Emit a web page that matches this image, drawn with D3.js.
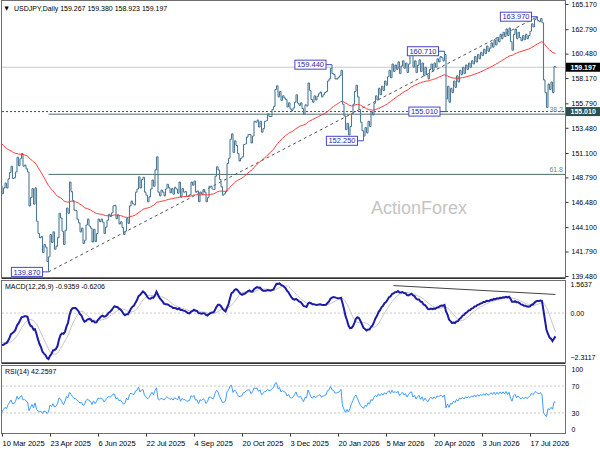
<!DOCTYPE html>
<html>
<head>
<meta charset="utf-8">
<script src="https://cdn.jsdelivr.net/npm/d3@7"></script>
<style>
  body { margin: 0; background: #fff; }
  text { font-family: "Liberation Sans", Arial, sans-serif; }
</style>
</head>
<body>
<svg id="chart" width="600" height="450"></svg>
<script>

// closes before the visible window (Dec 2024 - 7 Mar 2025), only used to warm up the indicators
var warmup = [149.6, 149.6, 150.6, 150.1, 150.0, 151.2, 151.9, 152.5, 152.6, 153.6,
  154.1, 153.5, 154.8, 157.4, 156.4, 157.1, 157.2, 157.9, 157.9, 156.9,
  157.2, 157.5, 157.3, 157.6, 158.0, 158.3, 158.1, 157.7, 157.5, 158.0,
  156.5, 155.2, 156.3, 155.6, 156.5, 156.5, 156.0, 156.0, 154.5, 155.5,
  155.3, 154.3, 155.2, 154.4, 154.4, 152.6, 151.5, 151.4, 152.0, 152.4,
  154.4, 152.8, 152.3, 151.5, 152.0, 151.5, 149.8, 149.3, 149.7, 149.0,
  149.1, 149.8, 150.6, 149.4, 149.7, 148.9, 147.9, 148.0];

// daily closes from 10 Mar 2025
var closes = [
  147.25, 147.80, 148.25, 147.80, 148.65,  149.25, 149.85, 148.70, 148.75, 149.30,
  150.70, 149.90, 150.55, 151.05, 149.85,  149.95, 149.60, 149.30, 146.10, 146.90,
  147.75, 146.25, 147.80, 144.65, 143.50,  143.10, 143.20, 141.70, 142.45, 142.20,
  140.85, 141.30, 143.40, 142.65, 143.65,  142.00, 142.30, 143.10, 145.40, 144.95,
  143.70, 142.45, 143.80, 145.90, 145.40,  148.35, 147.45, 146.60, 145.70, 145.65,
  144.85, 144.50, 143.65, 144.00, 142.55,  142.85, 144.30, 144.85, 144.20, 144.00,
  142.70, 143.90, 142.75, 143.50, 144.85,  144.60, 144.85, 144.55, 143.50, 144.10,
  144.75, 145.30, 145.10, 145.45, 146.10,  146.15, 144.90, 145.25, 144.40, 144.60,
  144.05, 143.40, 143.70, 144.90, 144.45,  146.10, 146.55, 146.30, 146.20, 147.40,
  147.70, 148.85, 147.80, 148.60, 148.80,  147.40, 147.10, 146.50, 146.95, 147.70,
  148.55, 147.95, 149.50, 150.75, 147.40,  147.05, 147.60, 147.40, 147.05, 147.70,
  148.15, 147.80, 147.35, 147.75, 147.20,  147.85, 147.70, 147.30, 148.35, 146.95,
  147.75, 147.40, 147.45, 147.00, 147.05,  147.15, 148.35, 148.05, 148.45, 147.40,
  147.50, 146.50, 147.40, 147.20, 147.65,  147.40, 146.50, 146.90, 147.95, 147.95,
  147.70, 147.65, 148.90, 149.80, 149.50,  148.60, 147.90, 147.10, 147.25, 147.45,
  150.10, 150.60, 152.40, 152.90, 151.15,  152.25, 151.80, 151.05, 150.35, 150.60,
  150.75, 151.90, 151.95, 152.60, 152.85,  152.85, 152.05, 152.70, 154.10, 154.00,
  154.20, 153.55, 154.10, 153.05, 153.40,  154.10, 154.15, 154.80, 154.55, 154.55,
  155.20, 155.50, 157.10, 157.45, 156.40,  156.90, 156.05, 156.50, 156.30, 156.15,
  155.45, 155.85, 155.25, 155.10, 155.35,  155.90, 156.60, 155.80, 155.60, 155.85,
  155.30, 154.75, 155.65, 155.55, 157.70,  157.00, 156.15, 155.90, 156.50,
  156.10, 156.45, 156.70, 156.85,  156.40, 156.60, 156.80, 156.90, 157.90,
  158.10, 159.10, 158.60, 158.50, 158.10,  158.10, 158.25, 158.40, 158.90, 155.70,
  154.60, 153.30, 153.90, 152.80, 153.60,  154.80, 155.70, 156.90, 157.50, 156.40,
  155.20, 154.00, 153.20, 152.70, 153.50,  153.00, 154.10, 153.60, 155.00, 154.70,
  155.80, 156.50, 156.10, 157.20, 156.60,  157.40, 157.00, 157.90, 157.50, 158.30,
  158.90, 158.20, 159.50, 158.80, 159.40,  159.00, 159.70, 158.60, 159.30, 159.80,
  159.10, 159.60, 158.70, 159.50, 160.30,  160.50, 159.20, 159.80, 158.70, 159.40,
  159.90, 158.80, 159.60, 158.40, 159.20,  158.50, 158.10, 159.00, 159.50, 158.90,
  159.60, 159.20, 160.00, 159.70, 160.20,  160.10, 159.80, 160.40, 156.20, 157.40,
  155.90, 157.20, 156.80, 157.90, 157.30,  158.40, 157.80, 158.90, 158.50, 159.20,
  158.60, 159.40, 159.00, 159.60, 159.20,  159.80, 159.50, 160.20, 159.70, 160.40,
  160.00, 160.60, 160.30, 160.90, 160.50,  161.20, 160.70, 161.00, 161.50, 161.10,
  161.80, 161.30, 162.00, 161.60, 162.30,  161.90, 162.50, 162.10, 162.80, 162.20,
  162.90, 161.60, 160.80, 162.30, 162.80,  161.90, 162.50, 162.00, 161.70, 162.20,
  161.80, 162.30, 161.90, 162.20, 162.60,  163.30, 163.00, 163.70, 163.90, 163.60,
  163.50, 163.80, 163.40, 158.00, 156.80,  155.40, 157.60, 157.10, 157.80, 156.80,
  159.267, 159.197
];

// labelled swing highs / lows: [bar index, price]
var pivots = [[31, 139.870], [220, 159.440], [241, 152.250], [295, 160.710], [296, 155.010], [357, 163.970]];

var dateLabels = ["10 Mar 2025", "23 Apr 2025", "6 Jun 2025", "22 Jul 2025", "4 Sep 2025", "20 Oct 2025",
  "3 Dec 2025", "20 Jan 2026", "5 Mar 2026", "20 Apr 2026", "3 Jun 2026", "17 Jul 2026"];
var priceTicks = [165.170, 162.790, 160.480, 158.170, 155.790, 153.480, 151.100, 148.790, 146.480, 144.100, 141.790, 139.480];
var macdTicks = [1.5637, 0, -2.3117];
var rsiTicks = [100, 70, 30, 0];
var fibLevels = [38.2, 61.8];
var hLevel = 155.010;
var lastPrice = 159.197;
var macdTrend = [[261, 1.30], [369, 0.88]];

var svg = d3.select("#chart");
var plotL = 2, plotR = 565.5;
var mainP = {top: 0, bottom: 277}, macdP = {top: 280, bottom: 362}, rsiP = {top: 365, bottom: 433};

var x = d3.scaleLinear().domain([0, 375]).range([2, 564.5]);
var y = d3.scaleLinear().domain([139.48, 165.17]).range([276, 4]);
var yM = d3.scaleLinear().domain([-2.3117, 1.5637]).range([macdP.bottom, macdP.top]);
var yR = d3.scaleLinear().domain([0, 100]).range([rsiP.bottom, rsiP.top + 1]);

// indicators
function ema(a, n) {
  var k = 2 / (n + 1), out = [a[0]];
  for (var i = 1; i < a.length; i++) out.push(a[i] * k + out[i - 1] * (1 - k));
  return out;
}
function sma(a, n) {
  return a.map(function(d, i) { return i < n - 1 ? d : d3.mean(a.slice(i - n + 1, i + 1)); });
}
function rsi(a, n) {
  var out = [50], ag = 0, al = 0;
  for (var i = 1; i < a.length; i++) {
    var ch = a[i] - a[i - 1], g = Math.max(ch, 0), l = Math.max(-ch, 0);
    if (i <= n) { ag += g / n; al += l / n; }
    else { ag = (ag * (n - 1) + g) / n; al = (al * (n - 1) + l) / n; }
    out.push(al === 0 ? 100 : 100 - 100 / (1 + ag / al));
  }
  return out;
}

var all = warmup.concat(closes), off = warmup.length;
var ma55 = ema(all, 55).slice(off);
var e12 = ema(all, 12), e26 = ema(all, 26);
var macdAll = e12.map(function(d, i) { return d - e26[i]; });
var macd = macdAll.slice(off), signal = sma(macdAll, 9).slice(off);
var rsiV = rsi(all, 14).slice(off);

var bars = closes.map(function(c, i) {
  var o = i ? closes[i - 1] : warmup[warmup.length - 1];
  var hi = Math.max(o, c), lo = Math.min(o, c);
  pivots.forEach(function(p) {
    if (p[0] === i) { hi = Math.max(hi, p[1]); lo = Math.min(lo, p[1]); }
  });
  return {i: i, o: o, c: c, h: hi, l: lo};
});

var defs = svg.append("defs");
[["clipMain", mainP], ["clipMacd", macdP], ["clipRsi", rsiP]].forEach(function(c) {
  defs.append("clipPath").attr("id", c[0]).append("rect")
      .attr("x", plotL).attr("y", c[1].top)
      .attr("width", plotR - plotL).attr("height", c[1].bottom - c[1].top);
});

// ---------- main panel ----------
var gm = svg.append("g").attr("clip-path", "url(#clipMain)");

gm.append("text")
    .attr("x", 419).attr("y", 214)
    .attr("text-anchor", "middle")
    .style("font-size", "18px")
    .style("fill", "#c4c4c4")
    .text("ActionForex");

gm.append("line")
    .attr("x1", plotL).attr("x2", plotR)
    .attr("y1", y(lastPrice)).attr("y2", y(lastPrice))
    .style("stroke", "#c8c8c8");

gm.append("line")
    .attr("x1", plotL).attr("x2", plotR)
    .attr("y1", y(hLevel)).attr("y2", y(hLevel))
    .style("stroke", "#2f4f4f").style("stroke-dasharray", "2,2");

var lowP = pivots[0], highP = pivots[5];
fibLevels.forEach(function(lv) {
  var p = highP[1] - (highP[1] - lowP[1]) * lv / 100;
  gm.append("line")
      .attr("x1", x(lowP[0])).attr("x2", plotR)
      .attr("y1", y(p)).attr("y2", y(p))
      .style("stroke", "#4f6d6d");
  gm.append("text")
      .attr("x", 563).attr("y", y(p) - 2)
      .attr("text-anchor", "end")
      .style("font-size", "7px")
      .style("fill", "#6f8585")
      .text(lv.toFixed(1));
});

gm.append("line")
    .attr("x1", x(lowP[0])).attr("y1", y(lowP[1]))
    .attr("x2", x(highP[0])).attr("y2", y(highP[1]))
    .style("stroke", "#555").style("stroke-dasharray", "3,3");

gm.append("path")
    .attr("d", bars.map(function(b) {
      var bx = x(b.i);
      return "M" + bx + "," + y(b.h) + "V" + y(b.l) +
             "M" + (bx - 1) + "," + y(b.o) + "h1" +
             "M" + bx + "," + y(b.c) + "h1";
    }).join(""))
    .style("fill", "none")
    .style("stroke", "#4d7a97")
    .style("stroke-width", 1.1);

gm.append("path")
    .datum(ma55)
    .attr("d", d3.line().x(function(d, i) { return x(i); }).y(function(d) { return y(d); }))
    .style("fill", "none")
    .style("stroke", "#ff3b3b")
    .style("stroke-width", 1);

// pivot labels
pivots.forEach(function(p) {
  var px = x(p[0]), py = y(p[1]);
  var g = svg.append("g");
  var t = g.append("text")
      .attr("y", py + 2.7)
      .style("font-size", "7.5px")
      .style("fill", "#2a2ab0")
      .text(p[1].toFixed(3));
  var w = t.node().getComputedTextLength() + 4;
  var right = px - 6;
  t.attr("x", right - w + 2);
  g.insert("rect", "text")
      .attr("x", right - w).attr("y", py - 4.5)
      .attr("width", w).attr("height", 9)
      .style("fill", "#fff")
      .style("stroke", "#4646c8");
  g.append("line")
      .attr("x1", right).attr("x2", px)
      .attr("y1", py).attr("y2", py)
      .style("stroke", "#4646c8");
});

svg.append("text")
    .attr("x", 4.5).attr("y", 10)
    .style("font-family", "'DejaVu Sans', sans-serif")
    .style("font-size", "5.5px")
    .text("\u25BC");
svg.append("text")
    .attr("x", 14).attr("y", 11)
    .style("font-size", "7px")
    .style("fill", "#000")
    .text("USDJPY,Daily  159.267 159.380 158.923 159.197");

// ---------- MACD panel ----------
var gd = svg.append("g").attr("clip-path", "url(#clipMacd)");

gd.append("line")
    .attr("x1", plotL).attr("x2", plotR)
    .attr("y1", yM(0)).attr("y2", yM(0))
    .style("stroke", "#c8c8c8").style("stroke-dasharray", "2,2");

gd.append("path")
    .datum(signal)
    .attr("d", d3.line().x(function(d, i) { return x(i); }).y(function(d) { return yM(d); }))
    .style("fill", "none").style("stroke", "#c4c4c4").style("stroke-width", 1);

gd.append("path")
    .datum(macd)
    .attr("d", d3.line().x(function(d, i) { return x(i); }).y(function(d) { return yM(d); }))
    .style("fill", "none").style("stroke", "#1c1ca6").style("stroke-width", 2);

gd.append("line")
    .attr("x1", x(macdTrend[0][0])).attr("y1", yM(macdTrend[0][1]))
    .attr("x2", x(macdTrend[1][0])).attr("y2", yM(macdTrend[1][1]))
    .style("stroke", "#444");

svg.append("text")
    .attr("x", 5).attr("y", 288.5)
    .style("font-size", "7px")
    .text("MACD(12,26,9) -0.9359 -0.6206");

// ---------- RSI panel ----------
var gr = svg.append("g").attr("clip-path", "url(#clipRsi)");

[70, 30].forEach(function(v) {
  gr.append("line")
      .attr("x1", plotL).attr("x2", plotR)
      .attr("y1", yR(v)).attr("y2", yR(v))
      .style("stroke", "#c8c8c8").style("stroke-dasharray", "2,2");
});

gr.append("path")
    .datum(rsiV)
    .attr("d", d3.line().x(function(d, i) { return x(i); }).y(function(d) { return yR(d); }))
    .style("fill", "none").style("stroke", "#3d9bff").style("stroke-width", 1);

svg.append("text")
    .attr("x", 5).attr("y", 373.5)
    .style("font-size", "7px")
    .text("RSI(14) 42.2597");

// ---------- frames ----------
var frame = svg.append("g").style("fill", "none");
[mainP, macdP, rsiP].forEach(function(p) {
  frame.append("rect")
      .attr("x", 1.5).attr("y", p.top + 0.5)
      .attr("width", plotR - 1.5).attr("height", p.bottom - p.top)
      .style("stroke", "#6e6e6e");
});
frame.append("line").attr("x1", 1.5).attr("x2", plotR).attr("y1", 278.5).attr("y2", 278.5).style("stroke", "#333");
frame.append("line").attr("x1", 1.5).attr("x2", plotR).attr("y1", 363.5).attr("y2", 363.5).style("stroke", "#333");

// ---------- axes ----------
function styleAxis(g) {
  g.select(".domain").remove();
  g.selectAll(".tick line").style("stroke", "#333");
  g.selectAll(".tick text").style("font-size", "7px").style("fill", "#000");
}

svg.append("g")
    .attr("transform", "translate(" + plotR + ",0)")
    .call(d3.axisRight(y).tickValues(priceTicks).tickSize(3).tickPadding(3).tickFormat(d3.format(".3f")))
    .call(styleAxis);

svg.append("g")
    .attr("transform", "translate(" + plotR + ",0)")
    .call(d3.axisRight(yM).tickValues(macdTicks).tickSize(0).tickPadding(5)
      .tickFormat(function(d) { return d === 0 ? "0.00" : d3.format(".4f")(d); }))
    .call(styleAxis)
    .selectAll(".tick text")
    .attr("dy", function(d) { return d > 1 ? "0.9em" : d < -1 ? "-0.3em" : "0.32em"; });

svg.append("g")
    .attr("transform", "translate(" + plotR + ",0)")
    .call(d3.axisRight(yR).tickValues(rsiTicks).tickSize(0).tickPadding(6))
    .call(styleAxis)
    .selectAll(".tick text")
    .attr("dy", function(d) { return d === 100 ? "0.8em" : d === 0 ? "-0.2em" : "0.32em"; });

var xAxis = svg.append("g")
    .attr("transform", "translate(0," + (rsiP.bottom + 0.5) + ")")
    .call(d3.axisBottom(x)
      .tickValues(dateLabels.map(function(d, i) { return i * 32; }))
      .tickSize(3).tickPadding(4)
      .tickFormat(function(d, i) { return dateLabels[i]; }))
    .call(styleAxis);
xAxis.selectAll(".tick text").attr("text-anchor", "start").attr("x", 0).style("font-size", "7.5px");

// price boxes on the right axis
[[lastPrice, "#000"], [hLevel, "#2f4f4f"]].forEach(function(b) {
  var g = svg.append("g");
  g.append("rect")
      .attr("x", plotR + 0.5).attr("y", y(b[0]) - 4.5)
      .attr("width", 600 - plotR).attr("height", 9)
      .style("fill", b[1]);
  g.append("text")
      .attr("x", plotR + 5).attr("y", y(b[0]) + 2.6)
      .style("font-size", "7px").style("font-weight", "bold").style("fill", "#fff")
      .text(b[0].toFixed(3));
});

</script>
</body>
</html>
